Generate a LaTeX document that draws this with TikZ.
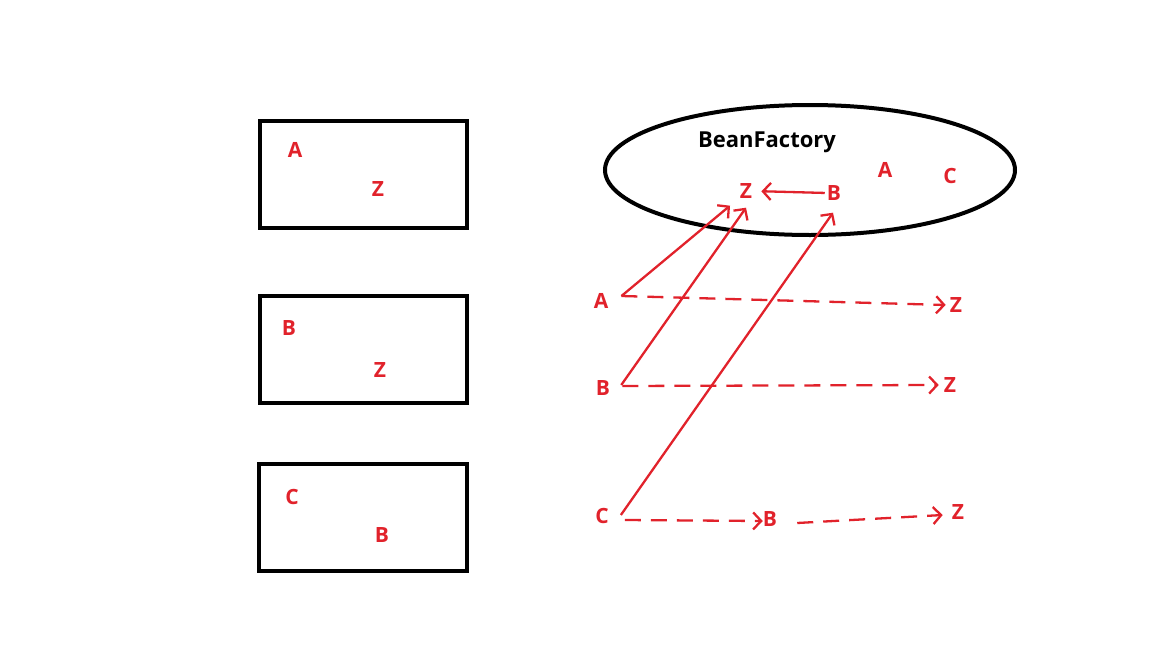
\documentclass[tikz,border=0pt]{standalone}
\usepackage{fontspec}
\setmainfont{Open Sans}
\usetikzlibrary{arrows.meta}
\definecolor{lred}{HTML}{E1222B}
\tikzset{
  lbl/.style={text=lred, font=\bfseries\fontsize{21}{23}\selectfont, inner sep=0pt},
  box/.style={draw=black, line width=4pt, outer sep=0pt, inner sep=0pt, anchor=north west, minimum height=107pt},
  rline/.style={draw=lred, line width=2.3pt, -{Straight Barb[length=8pt,width=17pt,line width=2.3pt]}},
  rdash/.style={rline, dash pattern=on 16pt off 10pt},
}
\begin{document}
\begin{tikzpicture}[x=1pt,y=-1pt]
\useasboundingbox (0,0) rectangle (1152,648);
% left boxes
\node[box, minimum width=207pt] (b1) at (260,121) {};
\node[box, minimum width=207pt] (b2) at (260,296) {};
\node[box, minimum width=208pt] (b3) at (259,464) {};
\node[lbl] (b1a) at (295,150) {A};
\node[lbl] (b1z) at (378,189) {Z};
\node[lbl] (b2b) at (289,328) {B};
\node[lbl] (b2z) at (380,370) {Z};
\node[lbl] (b3c) at (292,497) {C};
\node[lbl] (b3b) at (382,535) {B};
% bean factory
\draw[line width=4pt] (810,170) ellipse [x radius=205, y radius=65];
\node[font=\bfseries\fontsize{22}{24}\selectfont, inner sep=0] (bf) at (767,142) {BeanFactory};
\node[lbl] (fA) at (885,170) {A};
\node[lbl] (fC) at (950,176) {C};
\node[lbl] (fZ) at (746,191) {Z};
\node[lbl] (fB) at (834,193) {B};
\draw[rline, shorten <=2pt, shorten >=9pt] (fB.west) -- (fZ.east);
% left column
\node[lbl] (rA) at (601,301) {A};
\node[lbl] (rB) at (603,388) {B};
\node[lbl] (rC) at (602,516) {C};
% right targets
\node[lbl] (zA) at (956,305) {Z};
\node[lbl] (zB) at (950,385) {Z};
\node[lbl] (zC) at (958,512) {Z};
\node[lbl] (mB) at (770,519) {B};
% solid arrows
\draw[rline] ([xshift=13pt,yshift=5pt]rA.east) -- ([xshift=-16pt,yshift=-7pt]fZ.south);
\draw[rline] ([xshift=11pt,yshift=3pt]rB.east) -- ([yshift=-9pt]fZ.south);
\draw[rline] ([xshift=12pt,yshift=1pt]rC.east) -- ([xshift=-1pt,yshift=-12pt]fB.south);
% dashed arrows
\draw[rdash] ([xshift=13pt,yshift=5pt]rA.east) -- ([xshift=-4pt]zA.west);
\draw[rdash] ([xshift=12pt,yshift=2pt]rB.east) -- ([xshift=-5pt]zB.west);
\draw[rdash] ([xshift=16pt,yshift=-4pt]rC.east) -- ([yshift=-2pt]mB.west);
\draw[rdash] ([xshift=20pt,yshift=-4pt]mB.east) -- ([xshift=-9pt,yshift=-3pt]zC.west);
\end{tikzpicture}
\end{document}
